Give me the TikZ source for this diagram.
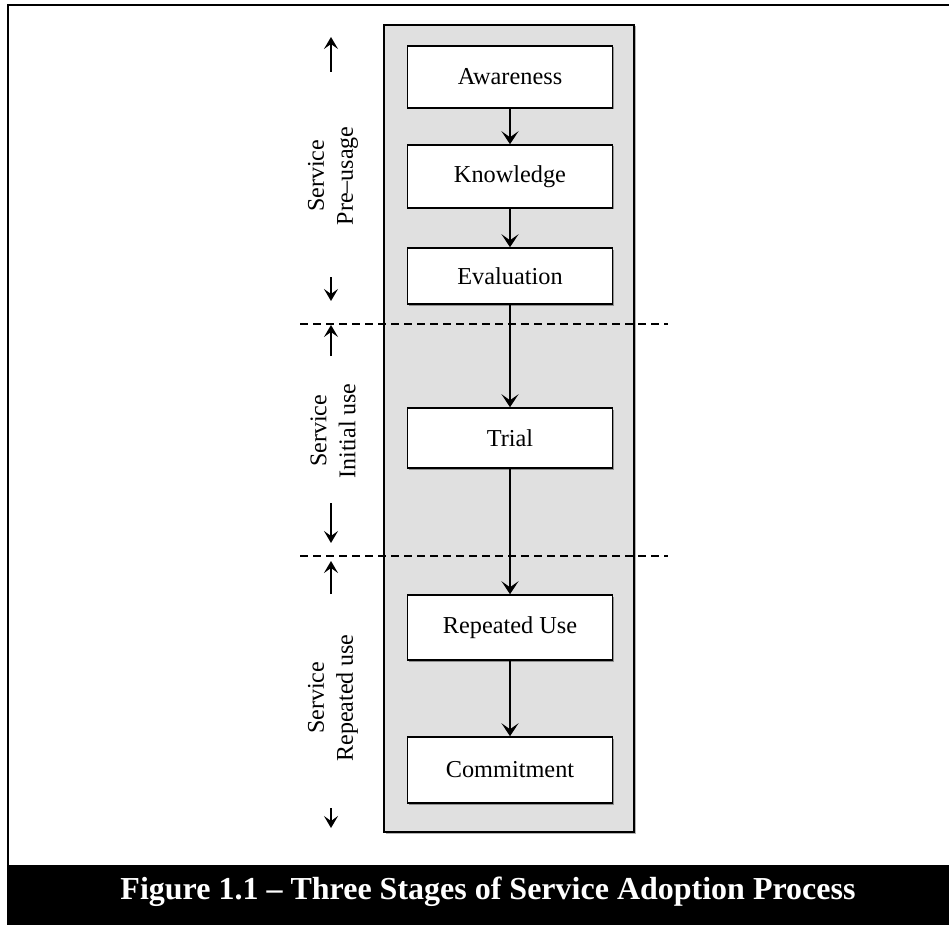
\documentclass[tikz,border=0pt]{standalone}
\usepackage{fontspec}
\setmainfont{Liberation Serif}
\usetikzlibrary{arrows.meta,shadows}

\tikzset{
  stage/.style={draw=black, line width=1.5pt, fill=white, minimum width=205pt,
    inner sep=0pt, font=\fontsize{24.3}{28}\selectfont,
    drop shadow={shadow xshift=1.5pt, shadow yshift=-1.5pt, opacity=0.35, fill=black}},
  flow/.style={line width=2.2pt, -{Stealth[length=13pt,width=17pt,inset=6pt]}},
  phasearrow/.style={line width=2.2pt, -{Stealth[length=12pt,width=14pt,inset=5pt]}},
  divider/.style={line width=1.5pt, dash pattern=on 8pt off 5pt},
  phaselabel/.style={rotate=90, align=center, font=\fontsize{24}{29}\selectfont},
}

\begin{document}
\begin{tikzpicture}[x=1pt,y=-1pt]
  \useasboundingbox (0,0) rectangle (949,925);

  % outer frame and caption bar
  \fill[white] (0,0) rectangle (949,925);
  \draw[line width=2.2pt] (8,866) -- (8,5) -- (949,5);
  \fill[black] (7,865) rectangle (949,925);
  \node[text=white, font=\fontsize{32}{36}\selectfont\bfseries] (caption) at (488,892)
    {Figure 1.1 – Three Stages of Service Adoption Process};

  % grey column holding the stages
  \path[draw=black, line width=1.3pt, fill=black!12,
    drop shadow={shadow xshift=1.5pt, shadow yshift=-1.5pt, opacity=0.3, fill=black}]
    (384,25) rectangle (634,832);

  % stages
  \node[stage, minimum height=62pt] (aware) at (510,77)    {Awareness};
  \node[stage, minimum height=63pt] (know)  at (510,176.5) {Knowledge};
  \node[stage, minimum height=56pt] (eval)  at (510,276)   {Evaluation};
  \node[stage, minimum height=60pt] (trial) at (510,438)   {Trial};
  \node[stage, minimum height=65pt] (rep)   at (510,627.5) {Repeated Use};
  \node[stage, minimum height=66pt] (commit) at (510,770)  {Commitment};

  % flow between stages
  \draw[flow] (aware) -- (know);
  \draw[flow] (know) -- (eval);
  \draw[flow] (eval) -- (trial);
  \draw[flow] (trial) -- (rep);
  \draw[flow] (rep) -- (commit);

  % phase boundaries
  \coordinate (d1a) at (300,324); \coordinate (d1b) at (668,324);
  \coordinate (d2a) at (300,556); \coordinate (d2b) at (668,556);
  \draw[divider] (d1a) -- (d1b);
  \draw[divider] (d2a) -- (d2b);

  % phase extent arrows
  \coordinate (p1s) at (331,72);  \coordinate (p1e) at (331,37);
  \coordinate (p2s) at (331,277); \coordinate (p2e) at (331,301);
  \coordinate (p3s) at (331,356); \coordinate (p3e) at (331,325);
  \coordinate (p4s) at (331,503); \coordinate (p4e) at (331,543);
  \coordinate (p5s) at (331,594); \coordinate (p5e) at (331,561);
  \coordinate (p6s) at (331,808); \coordinate (p6e) at (331,828);
  \draw[phasearrow] (p1s) -- (p1e);
  \draw[phasearrow] (p2s) -- (p2e);
  \draw[phasearrow] (p3s) -- (p3e);
  \draw[phasearrow] (p4s) -- (p4e);
  \draw[phasearrow] (p5s) -- (p5e);
  \draw[phasearrow] (p6s) -- (p6e);

  % phase names
  \node[phaselabel] (pre)  at (333,176) {Service\\Pre–usage};
  \node[phaselabel] (init) at (333,431) {Service\\Initial use};
  \node[phaselabel] (again) at (333,698) {Service\\Repeated use};
\end{tikzpicture}
\end{document}
